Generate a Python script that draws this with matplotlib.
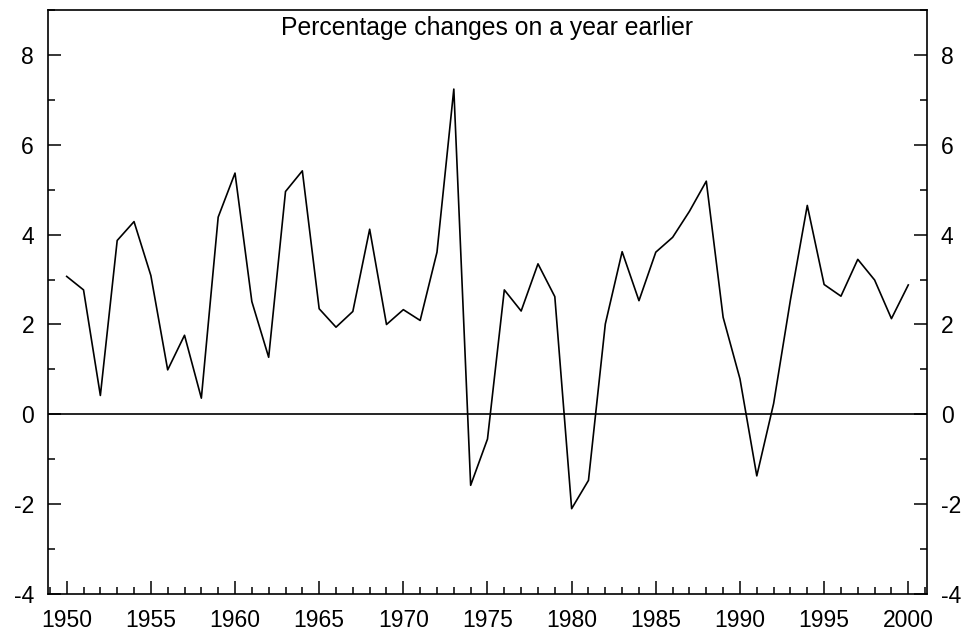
import matplotlib
matplotlib.use("Agg")
import matplotlib.pyplot as plt
from matplotlib import font_manager as fm
from matplotlib.ticker import MultipleLocator

years = list(range(1950, 2001))
pct_change = [
    3.07, 2.77, 0.42, 3.87, 4.29, 3.09, 0.99, 1.76, 0.36, 4.39,
    5.37, 2.51, 1.27, 4.96, 5.42, 2.35, 1.94, 2.29, 4.12, 2.00,
    2.33, 2.09, 3.61, 7.24, -1.58, -0.55, 2.77, 2.30, 3.35, 2.62,
    -2.10, -1.47, 2.01, 3.62, 2.53, 3.61, 3.94, 4.52, 5.19, 2.16,
    0.79, -1.37, 0.24, 2.55, 4.65, 2.89, 2.63, 3.45, 2.99, 2.13,
    2.88,
]
title_text = "Percentage changes on a year earlier"


def arial_like():
    # the plain (not Narrow) Liberation Sans file
    for f in fm.findSystemFonts():
        if f.endswith("LiberationSans-Regular.ttf"):
            return fm.FontProperties(fname=f)
    return fm.FontProperties(family="Liberation Sans")


def main():
    plt.rcParams["axes.unicode_minus"] = False
    font = arial_like()
    fig = plt.figure(figsize=(9.68, 6.3), dpi=100)
    ax = fig.add_axes([0.0496, 0.0571, 0.908, 0.927])

    ax.plot(years, pct_change, color="black", lw=1.2)
    ax.axhline(0, color="black", lw=1.2)

    ax.set_xlim(1948.89, 2001.11)
    ax.set_ylim(-4, 9)
    ax.xaxis.set_major_locator(MultipleLocator(5))
    ax.xaxis.set_minor_locator(MultipleLocator(1))
    ax.yaxis.set_major_locator(MultipleLocator(2))
    ax.yaxis.set_minor_locator(MultipleLocator(1))
    ax.set_xticks(range(1950, 2001, 5))
    ax.set_yticks(range(-4, 9, 2))

    ax.tick_params(axis="both", which="both", direction="in",
                   width=1.1, color="black")
    ax.tick_params(axis="both", which="major", length=9.5)
    ax.tick_params(axis="both", which="minor", length=5)
    ax.tick_params(axis="x", which="both", top=False, pad=10.5)
    ax.tick_params(axis="y", which="both", left=True, right=True,
                   labelleft=True, labelright=True, pad=10)

    for lbl in ax.get_xticklabels() + ax.get_yticklabels():
        lbl.set_fontproperties(font)
        lbl.set_fontsize(16.5)
    for tick in ax.yaxis.get_major_ticks():
        tick.label2.set_fontproperties(font)
        tick.label2.set_fontsize(16.5)

    for s in ax.spines.values():
        s.set_linewidth(1.2)

    ax.text(0.5, 0.957, title_text, transform=ax.transAxes, ha="center",
            va="baseline", fontproperties=font, fontsize=17.8)

    fig.savefig("out.png", dpi=100)


if __name__ == "__main__":
    main()
